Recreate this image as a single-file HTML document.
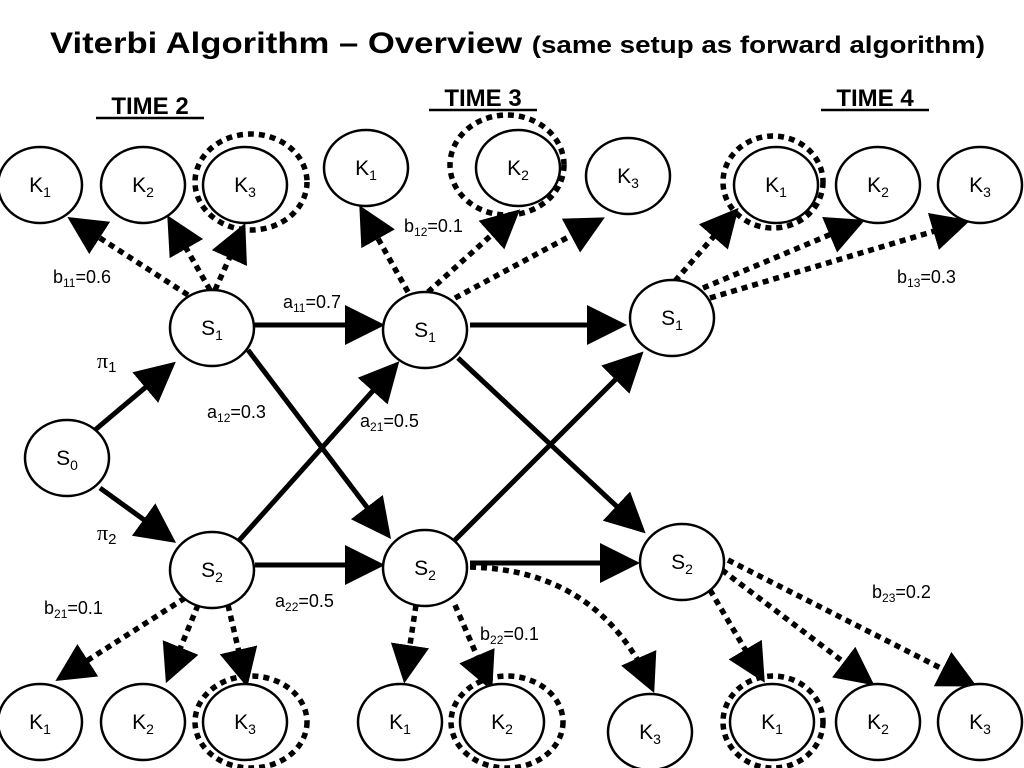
<!DOCTYPE html>
<html><head><meta charset="utf-8"><style>
html,body{margin:0;padding:0;background:#fff;}
svg{display:block;font-family:"Liberation Sans",Arial,sans-serif;}
</style></head><body>
<svg width="1024" height="768" viewBox="0 0 1024 768" xmlns="http://www.w3.org/2000/svg">
<defs>
<marker id="ah" markerWidth="8" markerHeight="8" refX="7" refY="4" orient="auto" markerUnits="strokeWidth">
<path d="M0,0 L8,4 L0,8 Z" fill="#000"/></marker>
<marker id="ad" markerWidth="7" markerHeight="7" refX="6" refY="3.5" orient="auto" markerUnits="strokeWidth">
<path d="M0,0 L7,3.5 L0,7 Z" fill="#000"/></marker>
</defs>
<text x="50" y="53" font-weight="bold" font-size="30" textLength="935" lengthAdjust="spacingAndGlyphs">Viterbi Algorithm – Overview <tspan font-size="24">(same setup as forward algorithm)</tspan></text>
<g font-weight="bold" font-size="24" text-anchor="middle">
<text x="150" y="114">TIME 2</text><line x1="96" y1="118" x2="204" y2="118" stroke="#000" stroke-width="2.5"/>
<text x="483" y="106">TIME 3</text><line x1="429" y1="110" x2="537" y2="110" stroke="#000" stroke-width="2.5"/>
<text x="875" y="106">TIME 4</text><line x1="821" y1="110" x2="929" y2="110" stroke="#000" stroke-width="2.5"/>
</g>
<g fill="none" stroke="#000" stroke-width="5.5" stroke-dasharray="6,5">
<ellipse cx="251" cy="182" rx="56" ry="48"/>
<ellipse cx="507" cy="165" rx="57" ry="50"/>
<ellipse cx="773" cy="182" rx="50" ry="46"/>
<ellipse cx="251" cy="722" rx="56" ry="46"/>
<ellipse cx="507" cy="722" rx="56" ry="46"/>
<ellipse cx="773" cy="722" rx="50" ry="46"/>
</g>
<g fill="none" stroke="#000" stroke-width="5.5" stroke-dasharray="6,5" marker-end="url(#ad)">
<line x1="188" y1="295" x2="72" y2="220"/>
<line x1="210" y1="290" x2="170" y2="220"/>
<line x1="215" y1="290" x2="243" y2="228"/>
<line x1="408" y1="292" x2="362" y2="210"/>
<line x1="428" y1="292" x2="516" y2="213"/>
<line x1="455" y1="298" x2="600" y2="220"/>
<line x1="675" y1="281" x2="735" y2="212"/>
<line x1="703" y1="288" x2="860" y2="222"/>
<line x1="710" y1="298" x2="965" y2="222"/>
<line x1="185" y1="598" x2="60" y2="678"/>
<line x1="198" y1="605" x2="168" y2="678"/>
<line x1="228" y1="605" x2="246" y2="682"/>
<line x1="416" y1="605" x2="405" y2="678"/>
<line x1="455" y1="605" x2="490" y2="686"/>
<path d="M470,567 Q600,570 652,688"/>
<line x1="710" y1="590" x2="762" y2="678"/>
<line x1="722" y1="570" x2="870" y2="682"/>
<line x1="728" y1="560" x2="972" y2="684"/>
</g>
<g stroke="#000" stroke-width="5" marker-end="url(#ah)">
<line x1="95" y1="430" x2="172" y2="365"/>
<line x1="100" y1="488" x2="172" y2="540"/>
<line x1="255" y1="325" x2="380" y2="325"/>
<line x1="248" y1="350" x2="388" y2="535"/>
<line x1="235" y1="545" x2="396" y2="365"/>
<line x1="255" y1="565" x2="380" y2="565"/>
<line x1="470" y1="325" x2="622" y2="325"/>
<line x1="458" y1="358" x2="642" y2="530"/>
<line x1="455" y1="540" x2="640" y2="355"/>
<line x1="470" y1="563" x2="635" y2="563"/>
</g>
<g fill="#fff" stroke="#000" stroke-width="2.5">
<ellipse cx="40" cy="185" rx="42" ry="38"/>
<ellipse cx="143" cy="185" rx="42" ry="38"/>
<ellipse cx="245" cy="185" rx="42" ry="38"/>
<ellipse cx="366" cy="168" rx="42" ry="38"/>
<ellipse cx="518" cy="168" rx="42" ry="38"/>
<ellipse cx="628" cy="176" rx="42" ry="38"/>
<ellipse cx="776" cy="185" rx="42" ry="38"/>
<ellipse cx="878" cy="185" rx="42" ry="38"/>
<ellipse cx="980" cy="185" rx="42" ry="38"/>
<ellipse cx="67" cy="458" rx="42" ry="38"/>
<ellipse cx="212" cy="328" rx="42" ry="38"/>
<ellipse cx="425" cy="330" rx="42" ry="38"/>
<ellipse cx="672" cy="318" rx="42" ry="38"/>
<ellipse cx="212" cy="570" rx="42" ry="38"/>
<ellipse cx="425" cy="568" rx="42" ry="38"/>
<ellipse cx="682" cy="562" rx="42" ry="38"/>
<ellipse cx="40" cy="722" rx="42" ry="38"/>
<ellipse cx="143" cy="722" rx="42" ry="38"/>
<ellipse cx="245" cy="722" rx="42" ry="38"/>
<ellipse cx="400" cy="722" rx="42" ry="38"/>
<ellipse cx="502" cy="722" rx="42" ry="38"/>
<ellipse cx="650" cy="732" rx="42" ry="38"/>
<ellipse cx="772" cy="722" rx="42" ry="38"/>
<ellipse cx="878" cy="722" rx="42" ry="38"/>
<ellipse cx="980" cy="722" rx="42" ry="38"/>
</g>
<g font-size="21" text-anchor="middle">
<text x="40" y="192">K<tspan font-size="14" dy="5">1</tspan></text>
<text x="143" y="192">K<tspan font-size="14" dy="5">2</tspan></text>
<text x="245" y="192">K<tspan font-size="14" dy="5">3</tspan></text>
<text x="366" y="175">K<tspan font-size="14" dy="5">1</tspan></text>
<text x="518" y="175">K<tspan font-size="14" dy="5">2</tspan></text>
<text x="628" y="183">K<tspan font-size="14" dy="5">3</tspan></text>
<text x="776" y="192">K<tspan font-size="14" dy="5">1</tspan></text>
<text x="878" y="192">K<tspan font-size="14" dy="5">2</tspan></text>
<text x="980" y="192">K<tspan font-size="14" dy="5">3</tspan></text>
<text x="67" y="465">S<tspan font-size="14" dy="5">0</tspan></text>
<text x="212" y="335">S<tspan font-size="14" dy="5">1</tspan></text>
<text x="425" y="337">S<tspan font-size="14" dy="5">1</tspan></text>
<text x="672" y="325">S<tspan font-size="14" dy="5">1</tspan></text>
<text x="212" y="577">S<tspan font-size="14" dy="5">2</tspan></text>
<text x="425" y="575">S<tspan font-size="14" dy="5">2</tspan></text>
<text x="682" y="569">S<tspan font-size="14" dy="5">2</tspan></text>
<text x="40" y="729">K<tspan font-size="14" dy="5">1</tspan></text>
<text x="143" y="729">K<tspan font-size="14" dy="5">2</tspan></text>
<text x="245" y="729">K<tspan font-size="14" dy="5">3</tspan></text>
<text x="400" y="729">K<tspan font-size="14" dy="5">1</tspan></text>
<text x="502" y="729">K<tspan font-size="14" dy="5">2</tspan></text>
<text x="650" y="739">K<tspan font-size="14" dy="5">3</tspan></text>
<text x="772" y="729">K<tspan font-size="14" dy="5">1</tspan></text>
<text x="878" y="729">K<tspan font-size="14" dy="5">2</tspan></text>
<text x="980" y="729">K<tspan font-size="14" dy="5">3</tspan></text>
</g>
<g font-size="18">
<text x="53" y="283">b<tspan font-size="12" dy="4">11</tspan><tspan dy="-4">=0.6</tspan></text>
<text x="404" y="232">b<tspan font-size="12" dy="4">12</tspan><tspan dy="-4">=0.1</tspan></text>
<text x="897" y="283">b<tspan font-size="12" dy="4">13</tspan><tspan dy="-4">=0.3</tspan></text>
<text x="283" y="308">a<tspan font-size="12" dy="4">11</tspan><tspan dy="-4">=0.7</tspan></text>
<text x="207" y="418">a<tspan font-size="12" dy="4">12</tspan><tspan dy="-4">=0.3</tspan></text>
<text x="360" y="427">a<tspan font-size="12" dy="4">21</tspan><tspan dy="-4">=0.5</tspan></text>
<text x="275" y="607">a<tspan font-size="12" dy="4">22</tspan><tspan dy="-4">=0.5</tspan></text>
<text x="44" y="614">b<tspan font-size="12" dy="4">21</tspan><tspan dy="-4">=0.1</tspan></text>
<text x="480" y="640">b<tspan font-size="12" dy="4">22</tspan><tspan dy="-4">=0.1</tspan></text>
<text x="872" y="598">b<tspan font-size="12" dy="4">23</tspan><tspan dy="-4">=0.2</tspan></text>
<text x="97" y="368" font-size="22" font-family="Liberation Serif,serif">π<tspan font-size="15" dy="4" font-family="Liberation Sans,sans-serif">1</tspan></text>
<text x="97" y="540" font-size="22" font-family="Liberation Serif,serif">π<tspan font-size="15" dy="4" font-family="Liberation Sans,sans-serif">2</tspan></text>
</g>
</svg>
</body></html>
